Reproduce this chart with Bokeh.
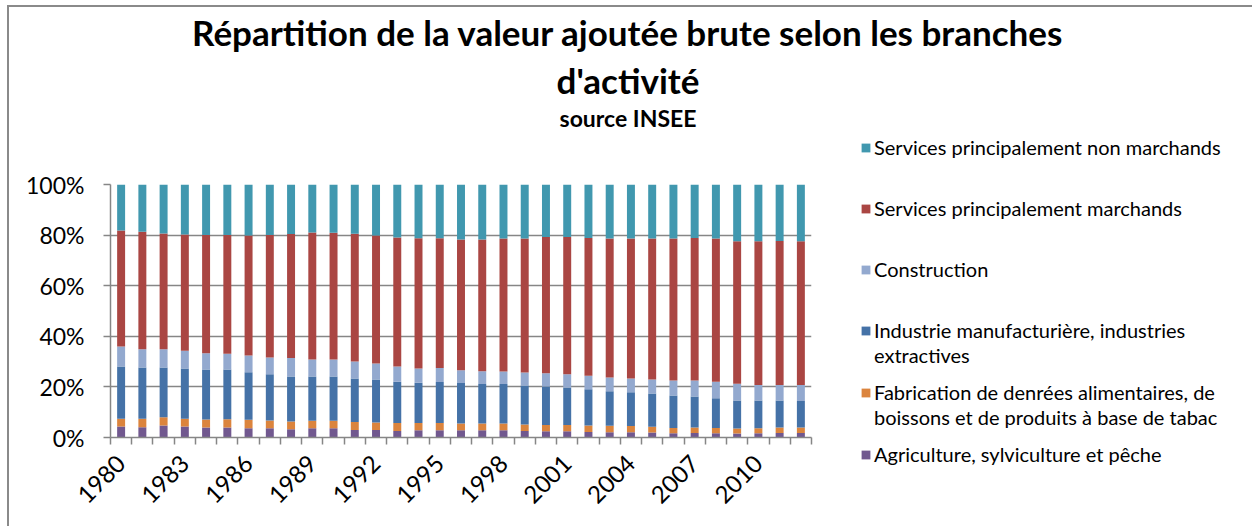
import math
from bokeh.plotting import figure
from bokeh.layouts import column, row
from bokeh.models import (Range1d, FixedTicker, PrintfTickFormatter, Label,
                          Legend, LegendItem, ColumnDataSource)
from bokeh.embed import file_html
from bokeh.resources import INLINE

# ---------------- data (shares in %) ----------------
years = list(range(1980, 2013))

agriculture = [4.3, 4.1, 4.7, 4.3, 4.0, 4.0, 3.7, 3.7, 3.3, 3.7, 3.7, 3.0, 3.0,
               2.6, 2.9, 2.9, 2.9, 2.9, 2.9, 2.6, 2.5, 2.5, 2.2, 2.1, 2.1, 2.0,
               1.7, 1.8, 1.7, 1.6, 1.7, 1.8, 1.8]
alimentaire = [3.1, 3.3, 3.3, 3.1, 3.1, 3.2, 3.3, 3.0, 3.0, 2.9, 2.9, 3.1, 2.9,
               3.1, 2.8, 2.8, 2.6, 2.6, 2.6, 2.5, 2.4, 2.4, 2.5, 2.5, 2.4, 2.2,
               2.1, 2.2, 2.1, 2.0, 2.0, 2.2, 2.2]
industrie = [20.7, 20.3, 19.7, 19.9, 19.8, 19.7, 18.8, 18.3, 17.8, 17.5, 17.5,
             17.2, 17.0, 16.3, 15.9, 16.2, 16.0, 15.6, 15.6, 15.5, 15.3, 14.9,
             14.4, 13.7, 13.4, 13.2, 12.8, 12.2, 11.7, 11.0, 10.9, 10.6, 10.4]
construction = [7.9, 7.2, 7.2, 7.0, 6.4, 6.2, 6.6, 6.6, 7.3, 6.7, 6.7, 6.7, 6.3,
                6.1, 5.7, 5.6, 5.1, 5.1, 5.0, 5.1, 5.2, 5.2, 5.3, 5.4, 5.4, 5.5,
                5.9, 6.3, 6.5, 6.6, 6.2, 6.2, 6.4]
services_marchands = [45.8, 46.4, 45.7, 45.9, 46.7, 46.9, 47.4, 48.4, 49.0,
                      50.2, 50.1, 50.5, 50.6, 51.0, 51.5, 51.3, 51.7, 52.1,
                      52.6, 53.0, 53.8, 54.2, 54.5, 55.0, 55.4, 55.8, 56.2,
                      56.4, 56.7, 56.4, 56.8, 56.9, 56.8]
services_non_marchands = [18.2, 18.7, 19.4, 19.8, 20.0, 20.0, 20.2, 20.0, 19.6,
                          19.0, 19.1, 19.5, 20.2, 20.9, 21.2, 21.2, 21.7, 21.7,
                          21.3, 21.3, 20.8, 20.8, 21.1, 21.3, 21.3, 21.3, 21.3,
                          21.1, 21.3, 22.4, 22.4, 22.3, 22.4]

series_keys = ["agri", "alim", "indus", "constr", "march", "nonmarch"]
series_labels = [
    "Agriculture, sylviculture et pêche",
    "Fabrication de denrées alimentaires, de\nboissons et de produits à base de tabac",
    "Industrie manufacturière, industries\nextractives",
    "Construction",
    "Services principalement marchands",
    "Services principalement non marchands",
]
colors = ["#71588F", "#DB843D", "#4572A7", "#93A9CF", "#AA4643", "#4198AF"]
y_ticks = [0, 20, 40, 60, 80, 100]
x_label_years = list(range(1980, 2011, 3))

title_line1 = "Répartition de la valeur ajoutée brute selon les branches"
title_line2 = "d'activité"
subtitle = "source INSEE"

FONT = "Lato"
GRAY = "#868686"

# ---------------- layout sizes ----------------
W, H = 1252, 526
TOP_H = 134            # title strip height
MAIN_W = 840           # chart part width
ROW_H = H - TOP_H      # 392
FL, FT, FB = 110, 184, 437   # frame edges in page px


def bare_fig(w, h):
    f = figure(width=w, height=h, output_backend="svg", toolbar_location=None,
               x_axis_type=None, y_axis_type=None,
               x_range=Range1d(0, 1), y_range=Range1d(0, 1),
               min_border=0, min_border_left=0, min_border_right=0,
               min_border_top=0, min_border_bottom=0)
    f.outline_line_color = None
    f.background_fill_alpha = 0
    f.border_fill_alpha = 0
    f.grid.visible = False
    f.frame_align = False
    return f


source = ColumnDataSource(dict(
    year=years, agri=agriculture, alim=alimentaire, indus=industrie,
    constr=construction, march=services_marchands,
    nonmarch=services_non_marchands))

# ---------------- title strip ----------------
tfig = bare_fig(W, TOP_H)
for txt, size, base_y in [(title_line1, "35px", 45 - 14),
                          (title_line2, "35px", 92 - 13),
                          (subtitle, "23px", 127 - 10)]:
    tfig.add_layout(Label(x=627.5, y=TOP_H - base_y, x_units="screen",
                          y_units="screen", text=txt, text_font=FONT,
                          text_font_style="bold", text_font_size=size,
                          text_align="center", text_baseline="alphabetic",
                          text_color="black"))

# ---------------- main chart ----------------
p = figure(width=MAIN_W, height=ROW_H, output_backend="svg",
           toolbar_location=None,
           x_range=Range1d(years[0] - 0.5, years[-1] + 0.5),
           y_range=Range1d(0, 100), title=None,
           min_border_left=FL, min_border_right=MAIN_W - 811,
           min_border_top=FT - TOP_H, min_border_bottom=H - FB)
p.outline_line_color = None
p.background_fill_color = "white"
p.border_fill_alpha = 0
p.frame_align = False

p.vbar_stack(series_keys, x="year", width=0.375, color=colors,
             line_color=None, source=source)

p.yaxis.ticker = FixedTicker(ticks=y_ticks)
p.yaxis.formatter = PrintfTickFormatter(format="%d%%")
p.yaxis.axis_line_color = GRAY
p.yaxis.axis_line_width = 1.5
p.yaxis.major_tick_line_color = GRAY
p.yaxis.major_tick_line_width = 1.5
p.yaxis.major_tick_in = 0
p.yaxis.major_tick_out = 7
p.yaxis.minor_tick_line_color = None
p.yaxis.major_label_standoff = 19
p.yaxis.major_label_text_font = FONT
p.yaxis.major_label_text_font_size = "23px"
p.yaxis.major_label_text_color = "black"

p.xaxis.ticker = FixedTicker(ticks=x_label_years,
                             minor_ticks=[y - 0.5 for y in years] + [years[-1] + 0.5])
p.xaxis.axis_line_color = GRAY
p.xaxis.axis_line_width = 1.5
p.xaxis.major_tick_line_color = None
p.xaxis.major_tick_in = 0
p.xaxis.major_tick_out = 7
p.xaxis.minor_tick_line_color = GRAY
p.xaxis.minor_tick_line_width = 1.5
p.xaxis.minor_tick_in = 0
p.xaxis.minor_tick_out = 7
p.xaxis.major_label_orientation = math.pi / 4
p.xaxis.major_label_standoff = 15
p.xaxis.major_label_text_font = FONT
p.xaxis.major_label_text_font_size = "24px"
p.xaxis.major_label_text_color = "black"

p.xgrid.grid_line_color = None
p.ygrid.grid_line_color = GRAY
p.ygrid.grid_line_width = 1.5

# ---------------- legend panel ----------------
lfig = bare_fig(W - MAIN_W, ROW_H)
# swatch renderers: same data, hidden (legend still draws their glyphs)
swatches = lfig.vbar_stack(series_keys, x="year", width=0.375, color=colors,
                           line_color=None, source=source)
for r in swatches:
    r.visible = False
blank = lfig.vbar(x=[], top=[], width=0.375, fill_alpha=0, line_alpha=0)

items = []
entries = list(reversed(list(zip(series_labels, swatches))))
for k, (lab, r) in enumerate(entries):
    lines = lab.split("\n")
    items.append(LegendItem(label=lines[0], renderers=[r]))
    for extra in lines[1:]:
        items.append(LegendItem(label=extra, renderers=[blank]))
    if k < len(entries) - 1:
        n_blank = 3 if len(lines) == 1 else 1
        for _ in range(n_blank):
            items.append(LegendItem(label=" ", renderers=[blank]))

legend = Legend(items=items, location=(20, 60), orientation="vertical",
                glyph_width=11, glyph_height=11, label_standoff=3,
                padding=0, margin=0, spacing=1,
                label_text_font=FONT, label_text_font_size="20px",
                label_text_color="black",
                inactive_fill_alpha=0,
                border_line_color=None, background_fill_alpha=0)
lfig.add_layout(legend)

layout = column(tfig, row(p, lfig, spacing=0), spacing=0)
# chart-area border (left and top edges visible in the cropped original)
layout.styles = {
    "background-color": "white",
    "background-image": "linear-gradient(#8a8a8a, #8a8a8a), linear-gradient(#8a8a8a, #8a8a8a)",
    "background-size": "2px 100%, 100% 2px",
    "background-position": "7px 6px, 7px 5px",
    "background-repeat": "no-repeat",
}

open("out.html", "w").write(file_html(layout, INLINE))
